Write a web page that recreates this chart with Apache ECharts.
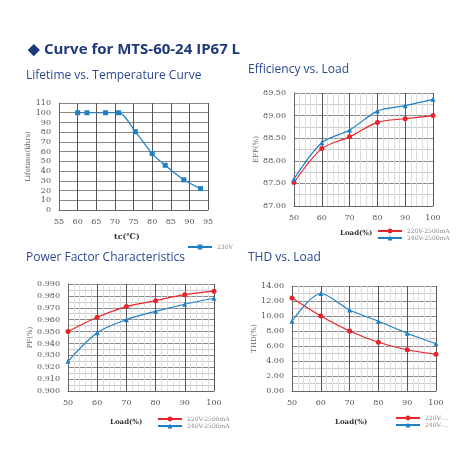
<!DOCTYPE html>
<html><head><meta charset="utf-8">
<script src="https://cdn.jsdelivr.net/npm/echarts@6/dist/echarts.min.js"></script>
<style>html,body{margin:0;padding:0;background:#fff}#c{width:458px;height:458px}</style>
</head><body><div id="c"></div>
<script>
// lifetime curve
var lifeTemp = [60, 62.5, 67.5, 71, 75.5, 80, 83.5, 88.5, 93];
var lifeHours = [100, 100, 100, 100, 80.5, 58, 46, 31, 22];
// load curves
var loads = [50, 60, 70, 80, 90, 100];
var eff220 = [87.52, 88.27, 88.53, 88.85, 88.93, 89.00];
var eff240 = [87.60, 88.40, 88.68, 89.10, 89.22, 89.36];
var pf220 = [0.950, 0.962, 0.971, 0.976, 0.981, 0.984];
var pf240 = [0.925, 0.949, 0.960, 0.967, 0.973, 0.978];
var thd220 = [12.4, 10.0, 8.0, 6.5, 5.5, 4.9];
var thd240 = [9.3, 13.0, 10.8, 9.3, 7.7, 6.3];

var RED = '#e8242b', BLUE = '#1f7fc4';
var serif = 'DejaVu Serif';

function pairs(xs, ys){ return xs.map(function(x,i){ return [x, ys[i]]; }); }

function xAx(idx, min, max, itv, minor){
	return {gridIndex: idx, type:'value', min:min, max:max, interval:itv,
		axisLine:{lineStyle:{color:'#666'}}, axisTick:{show:false},
		axisLabel:{fontFamily:serif, fontSize:8, color:'#555'},
		splitLine:{lineStyle:{color:'#555', width:1}},
		minorTick:{show:false, splitNumber:5},
		minorSplitLine:{show:minor, lineStyle:{color:'#ddd'}}};
}
function yAx(idx, min, max, itv, dec, name, minor){
	return {gridIndex: idx, type:'value', min:min, max:max, interval:itv,
		name:name, nameLocation:'middle', nameGap: dec==0?26:34, nameRotate:90,
		nameTextStyle:{fontFamily:serif, fontSize:7, color:'#666'},
		axisLine:{show:true, lineStyle:{color:'#666'}}, axisTick:{show:false},
		axisLabel:{fontFamily:serif, fontSize:8, color:'#555', formatter:function(v){ return v.toFixed(dec); }},
		splitLine:{lineStyle:{color:'#888', width:1}},
		minorTick:{show:false, splitNumber:2},
		minorSplitLine:{show:minor, lineStyle:{color:'#ccc'}}};
}
function line(name, xi, data, color, sym){
	return {name:name, type:'line', xAxisIndex:xi, yAxisIndex:xi, data:data, smooth:0.3,
		symbol:sym, symbolSize:5, lineStyle:{color:color, width:1.2}, itemStyle:{color:color}};
}
function legendAt(names, left, top){
	return {data:names, orient:'vertical', left:left, top:top, itemWidth:24, itemHeight:6, itemGap:1,
		textStyle:{fontFamily:serif, fontSize:6, color:'#888'}, selectedMode:false};
}
function txt(t, x, y, size, color, weight, fam){
	return {type:'text', left:x, top:y, style:{text:t, fontSize:size, fill:color, fontWeight:weight||'normal', fontFamily:fam||'Open Sans'}};
}

var chart = echarts.init(document.getElementById('c'));
chart.setOption({
	animation:false,
	graphic:[
		txt('\u25C6 Curve for MTS-60-24 IP67 L', 28, 42, 15, '#1f3a7a', 'bold'),
		txt('Lifetime vs. Temperature Curve', 26, 70, 12, '#2d4a8f'),
		txt('Efficiency vs. Load', 248, 64, 12, '#2d4a8f'),
		txt('Power Factor Characteristics', 26, 252, 12, '#2d4a8f'),
		txt('THD vs. Load', 248, 252, 12, '#2d4a8f'),
		txt('tc(\u2103)', 114, 233, 8, '#333', 'bold', serif),
		txt('Load(%)', 340, 230, 7, '#333', 'bold', serif),
		txt('Load(%)', 110, 419, 7, '#333', 'bold', serif),
		txt('Load(%)', 335, 419, 7, '#333', 'bold', serif)
	],
	grid:[
		{left:59, top:103, width:149, height:107},
		{left:294, top:93, width:139, height:113},
		{left:68, top:284, width:146, height:107},
		{left:292, top:286, width:144, height:105}
	],
	legend:[
		legendAt(['230V'], 182, 239),
		legendAt(['220V-2500mA', '240V-2500mA'], 372, 223),
		legendAt(['220V-2500mA', '240V-2500mA'], 152, 411),
		legendAt(['220V-...', '240V-...'], 390, 410)
	],
	xAxis:[
		xAx(0, 55, 95, 5, false),
		xAx(1, 50, 100, 10, true),
		xAx(2, 50, 100, 10, true),
		xAx(3, 50, 100, 10, true)
	],
	yAxis:[
		yAx(0, 0, 110, 10, 0, 'Lifetime(khrs)', false),
		yAx(1, 87, 89.5, 0.5, 2, 'EFF(%)', true),
		yAx(2, 0.9, 0.99, 0.01, 3, 'PF(%)', true),
		yAx(3, 0, 14, 2, 2, 'THD(%)', true)
	],
	series:[
		line('230V', 0, pairs(lifeTemp, lifeHours), BLUE, 'rect'),
		line('220V-2500mA', 1, pairs(loads, eff220), RED, 'circle'),
		line('240V-2500mA', 1, pairs(loads, eff240), BLUE, 'triangle'),
		line('220V-2500mA', 2, pairs(loads, pf220), RED, 'circle'),
		line('240V-2500mA', 2, pairs(loads, pf240), BLUE, 'triangle'),
		line('220V-...', 3, pairs(loads, thd220), RED, 'circle'),
		line('240V-...', 3, pairs(loads, thd240), BLUE, 'triangle')
	]
});
</script></body></html>
